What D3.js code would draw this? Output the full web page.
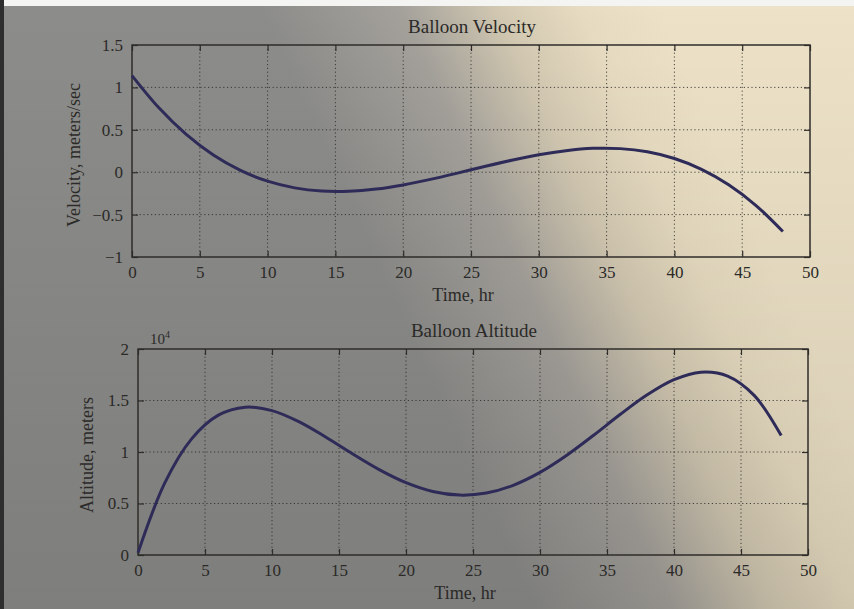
<!DOCTYPE html>
<html>
<head>
<meta charset="utf-8">
<title>Balloon</title>
<script src="https://d3js.org/d3.v7.min.js"></script>
<style>
  body { margin: 0; }
  text { font-family: "Liberation Serif", "DejaVu Serif", serif; fill: #2b2a28; }
</style>
</head>
<body>
<script>
// hours sampled every 2 hr
const hours = [0,2,4,6,8,10,12,14,16,18,20,22,24,26,28,30,32,34,36,38,40,42,44,46,48];
// velocity, meters/sec
const velocity = [1.139,0.756,0.446,0.203,0.022,-0.106,-0.185,-0.223,-0.225,-0.199,-0.150,-0.085,-0.011,
                  0.067,0.141,0.206,0.254,0.281,0.278,0.240,0.161,0.034,-0.148,-0.390,-0.700];
// altitude, meters
const altitude = [220,6994,11277,13576,14352,14020,12948,11458,9828,8287,7020,6165,5815,
                  6015,6765,8020,9687,11628,13658,15548,17020,17752,17376,15477,11594];
const xTicks = [0,5,10,15,20,25,30,35,40,45,50];
const vTicks = [-1,-0.5,0,0.5,1,1.5];
const aTicks = [0,0.5,1,1.5,2];

const W = 854, H = 609;
const svg = d3.select("body").append("svg").attr("width", W).attr("height", H);

// paper background: grey shadow on the left, cream on the right
const defs = svg.append("defs");
const grad = defs.append("linearGradient").attr("id", "paper")
  .attr("gradientUnits", "userSpaceOnUse")
  .attr("x1", 430).attr("y1", 380).attr("x2", 760).attr("y2", 230);
[[0, "#8c8c8a"], [0.35, "#a4a19b"], [0.6, "#d3c9b2"], [0.8, "#e7dcc1"], [1, "#ede2c7"]]
  .forEach(s => grad.append("stop").attr("offset", s[0]).attr("stop-color", s[1]));
const shade = defs.append("linearGradient").attr("id", "shade").attr("x1", 0).attr("y1", 0).attr("x2", 0).attr("y2", 1);
shade.append("stop").attr("offset", 0).attr("stop-color", "#000").attr("stop-opacity", 0.0);
shade.append("stop").attr("offset", 1).attr("stop-color", "#000").attr("stop-opacity", 0.1);

svg.append("rect").attr("width", W).attr("height", H).attr("fill", "url(#paper)");
svg.append("rect").attr("width", W).attr("height", H).attr("fill", "url(#shade)");
svg.append("rect").attr("width", W).attr("height", 6).attr("fill", "#f4f4f2");
svg.append("rect").attr("width", 4).attr("height", H).attr("fill", "#2e2e2e");

const ink = "#2f2d2a";
const curveColor = "#2e2b58";

function panel(cfg) {
  const x = d3.scaleLinear().domain([0, 50]).range([cfg.left, cfg.right]);
  const y = d3.scaleLinear().domain(cfg.yDomain).range([cfg.bottom, cfg.top]);
  const g = svg.append("g");

  // dotted grid
  g.selectAll(".gx").data(xTicks.slice(1, -1)).join("line")
    .attr("x1", d => x(d)).attr("x2", d => x(d))
    .attr("y1", cfg.top).attr("y2", cfg.bottom)
    .attr("stroke", ink).attr("stroke-width", 1).attr("stroke-dasharray", "1.2,2.6").attr("opacity", 0.85);
  g.selectAll(".gy").data(cfg.yTicks.slice(1, -1)).join("line")
    .attr("y1", d => y(d)).attr("y2", d => y(d))
    .attr("x1", cfg.left).attr("x2", cfg.right)
    .attr("stroke", ink).attr("stroke-width", 1).attr("stroke-dasharray", "1.2,2.6").attr("opacity", 0.85);

  // axes with inward ticks on all sides
  const ax = [
    [d3.axisBottom(x).tickValues(xTicks).tickSize(-6).tickPadding(9).tickFormat(d3.format("d")), `translate(0,${cfg.bottom})`],
    [d3.axisTop(x).tickValues(xTicks).tickSize(-6).tickFormat(""), `translate(0,${cfg.top})`],
    [d3.axisLeft(y).tickValues(cfg.yTicks).tickSize(-6).tickPadding(9).tickFormat(cfg.fmt), `translate(${cfg.left},0)`],
    [d3.axisRight(y).tickValues(cfg.yTicks).tickSize(-6).tickFormat(""), `translate(${cfg.right},0)`]
  ];
  ax.forEach(([a, t]) => {
    const s = g.append("g").attr("transform", t).call(a);
    s.select(".domain").remove();
    s.selectAll("line").attr("stroke", ink).attr("stroke-width", 1.2);
    s.selectAll("text").style("font-family", "Liberation Serif, serif").style("font-size", "17px").attr("fill", "#3a3835");
  });

  g.append("rect").attr("x", cfg.left).attr("y", cfg.top)
    .attr("width", cfg.right - cfg.left).attr("height", cfg.bottom - cfg.top)
    .attr("fill", "none").attr("stroke", ink).attr("stroke-width", 1.5);

  const line = d3.line().x((d, i) => x(hours[i])).y(d => y(d)).curve(d3.curveCatmullRom);
  g.append("path").datum(cfg.values).attr("d", line)
    .attr("fill", "none").attr("stroke", curveColor).attr("stroke-width", 3);

  g.append("text").attr("x", (cfg.left + cfg.right) / 2 + 1).attr("y", cfg.top - 12)
    .attr("text-anchor", "middle").style("font-size", "19px").text(cfg.title);
  g.append("text").attr("x", (cfg.left + cfg.right) / 2 - 8).attr("y", cfg.bottom + 44)
    .attr("text-anchor", "middle").style("font-size", "18px").text("Time, hr");
  g.append("text").attr("transform", `translate(${cfg.ylabX},${cfg.ylabY}) rotate(-90)`)
    .attr("text-anchor", "middle").style("font-size", "18px").text(cfg.ylabel);
  return g;
}

panel({
  left: 132, right: 810, top: 45, bottom: 257,
  yDomain: [-1, 1.5], yTicks: vTicks, fmt: d => d < 0 ? "\u2212" + Math.abs(d) : d,
  values: velocity, title: "Balloon Velocity", ylabel: "Velocity, meters/sec", ylabX: 80, ylabY: 155
});

const g2 = panel({
  left: 138, right: 808, top: 349, bottom: 555,
  yDomain: [0, 2], yTicks: aTicks, fmt: d => d,
  values: altitude.map(v => v / 1e4), title: "Balloon Altitude", ylabel: "Altitude, meters", ylabX: 93, ylabY: 455
});
const exp = g2.append("text").attr("x", 150).attr("y", 344).style("font-size", "15px").text("10");
exp.append("tspan").attr("dy", -6).style("font-size", "10px").text("4");
</script>
</body>
</html>
